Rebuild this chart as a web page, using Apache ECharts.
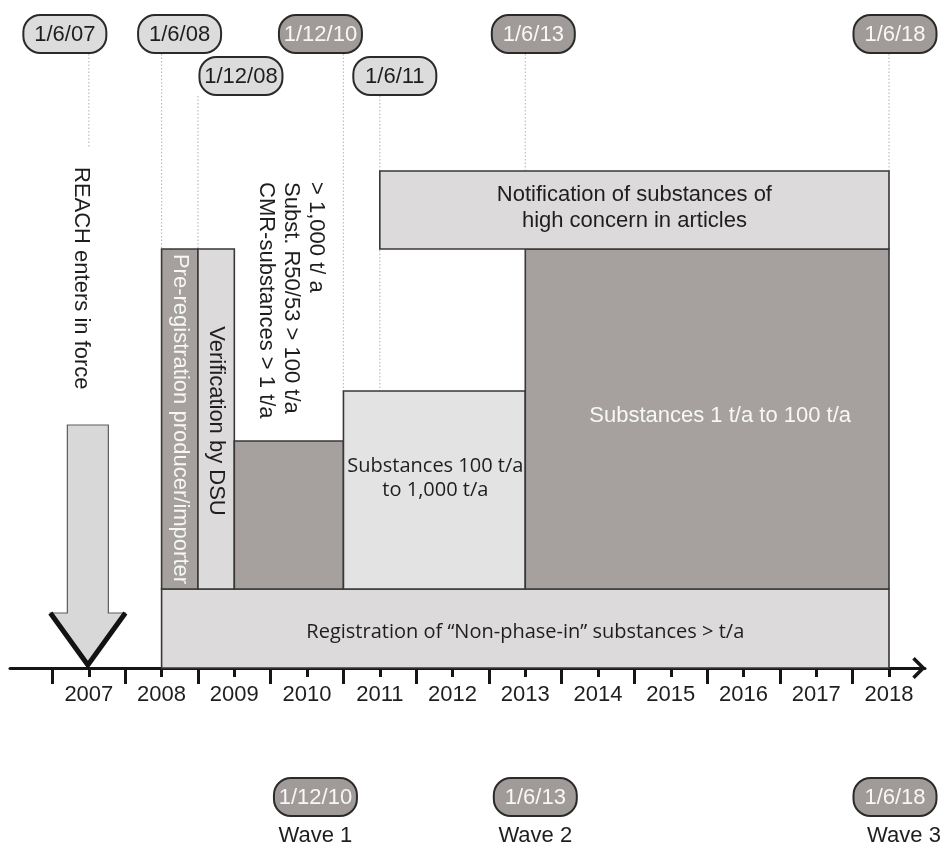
<!DOCTYPE html>
<html>
<head>
<meta charset="utf-8">
<script src="https://cdn.jsdelivr.net/npm/echarts@6/dist/echarts.min.js"></script>
<style>html,body{margin:0;padding:0;background:#fff}#c{width:943px;height:848px}</style>
</head>
<body>
<div id="c"></div>
<script>
// ---------------- data ----------------
const yearLabels = ['2007','2008','2009','2010','2011','2012','2013','2014','2015','2016','2017','2018'];
const yearLabelValues = [2007.5,2008.5,2009.5,2010.5,2011.5,2012.5,2013.5,2014.5,2015.5,2016.5,2017.5,2018.5];
const yearBoundaryValues = [2007,2008,2009,2010,2011,2012,2013,2014,2015,2016,2017,2018];

const phaseNames = [
  'Registration of \u201cNon-phase-in\u201d substances > t/a',
  'Pre-registration producer/importer',
  'Verification by DSU',
  '',
  'Substances 100 t/a\nto 1,000 t/a',
  'Substances 1 t/a to 100 t/a',
  'Notification of substances of\nhigh concern in articles'
];
const phaseStart  = [2008.5, 2008.5, 2009.0, 2009.5, 2011.0, 2013.5, 2011.5];
const phaseEnd    = [2018.5, 2009.0, 2009.5, 2011.0, 2013.5, 2018.5, 2018.5];
const phaseBottom = [0, 79, 79, 79, 79, 79, 419];
const phaseTop    = [79, 419, 419, 227, 277, 419, 497];
const phaseTone   = ['light','dark','light','dark','pale','dark','light'];

const milestoneLabels = ['1/6/07','1/6/08','1/12/08','1/12/10','1/6/11','1/6/13','1/6/18'];
const milestoneValues = [2007.5, 2008.5, 2009.0, 2011.0, 2011.5, 2013.5, 2018.5];
const milestoneTone   = ['light','light','light','dark','light','dark','dark'];
const milestoneRow    = [0, 0, 1, 0, 1, 0, 0];
const milestoneGuideEnd = [520, 419, 419, 277, 277, 497, 497];

const waveNames = ['Wave 1','Wave 2','Wave 3'];
const waveDateLabels = ['1/12/10','1/6/13','1/6/18'];
const waveValues = [2011.0, 2013.5, 2018.5];

const reachLabel = 'REACH enters in force';
const reachValue = 2007.5;
const reachArrowLevels = [243, 55, 3]; // shaft top, head start, tip

const cmrLines = ['> 1,000 t/ a', 'Subst. R50/53 > 100 t/a', 'CMR-substances > 1 t/a'];
const cmrPhaseIndex = 3;

// ---------------- layout / style ----------------
const C = {
  dark: '#a6a19f', light: '#dcdadb', pale: '#e2e3e2', edge: '#383838',
  ink: '#1e1e1e', white: '#f7f7f7', guide: '#bdbdbd'
};
const ARIAL = '"Liberation Sans", Arial, sans-serif';
const HUMAN = '"Open Sans", "Noto Sans", sans-serif';
const phaseLabelLayout = [
  {dx: 0, dy: 4, rot: false, font: '20px ' + HUMAN, lh: 24},
  {dx: 0, dy: 0, rot: true, font: '22px ' + ARIAL, lh: 24},
  {dx: 0, dy: 2, rot: true, font: '22px ' + ARIAL, lh: 24},
  {dx: 0, dy: 0, rot: false, font: '22px ' + ARIAL, lh: 24},
  {dx: 1, dy: -12, rot: false, font: '20px ' + HUMAN, lh: 24},
  {dx: 13, dy: -3, rot: false, font: '22px ' + ARIAL, lh: 24},
  {dx: 0, dy: -2, rot: false, font: '22px ' + ARIAL, lh: 26}
];
const pillDx = [-24, 18, 43, -23, 15, 8, 6];
const pillRowLevel = [634, 592];      // centre levels of the two top rows
const pillHalfH = 19, pillHalfW = 41.5;
const wavePillDx = [-28, 10, 6];
const waveLabelDx = [-28, 10, 15];
const wavePillLevel = -129, waveLabelLevel = -168;

function pill(cx, cy, label, tone) {
  const dark = tone === 'dark';
  return [
    {type: 'rect', shape: {x: cx - pillHalfW, y: cy - pillHalfH, width: pillHalfW * 2, height: pillHalfH * 2, r: 17},
     style: {fill: dark ? '#a09b99' : '#dcdcdc', stroke: '#2a2a2a', lineWidth: 2}},
    {type: 'text', x: cx, y: cy + 1,
     style: {text: label, align: 'center', verticalAlign: 'middle', font: '22px ' + ARIAL, fill: dark ? C.white : C.ink}}
  ];
}

const chart = echarts.init(document.getElementById('c'), null, {renderer: 'canvas'});

const option = {
  animation: false,
  backgroundColor: '#ffffff',
  grid: {left: 10, right: 18, top: 0, bottom: 180, outerBoundsMode: 'none', containLabel: false},
  xAxis: [
    {
      type: 'value', min: 2006.416, max: 2018.995, position: 'bottom',
      splitLine: {show: false},
      axisLine: {show: true, lineStyle: {color: '#151515', width: 3},
        symbol: ['none', 'path://M0,11L11,0L22,11L19.5,13.5L11,5L2.5,13.5Z'],
        symbolSize: [22, 14], symbolOffset: [0, -6]},
      axisTick: {show: true, customValues: yearLabelValues, length: 9, inside: false,
        lineStyle: {color: '#151515', width: 3}},
      axisLabel: {show: true, customValues: yearLabelValues, margin: 16,
        fontSize: 22, fontFamily: ARIAL, color: C.ink,
        formatter: function (v) { const k = yearLabelValues.indexOf(v); return k >= 0 ? yearLabels[k] : ''; }}
    },
    {
      type: 'value', min: 2006.416, max: 2018.995, position: 'bottom',
      splitLine: {show: false},
      axisLine: {show: false},
      axisTick: {show: true, customValues: yearBoundaryValues, length: 16, inside: false,
        lineStyle: {color: '#151515', width: 3}},
      axisLabel: {show: false}
    }
  ],
  yAxis: {type: 'value', min: 0, max: 668, show: false},
  series: [
    // dotted guides from the date pills
    {
      type: 'custom', coordinateSystem: 'cartesian2d', clip: false, z: 1,
      data: milestoneValues.map((v, i) => [v, pillRowLevel[milestoneRow[i]] - pillHalfH - 1, milestoneGuideEnd[i]]),
      renderItem: function (params, api) {
        const a = api.coord([api.value(0), api.value(1)]);
        const b = api.coord([api.value(0), api.value(2)]);
        return {type: 'line', shape: {x1: a[0], y1: a[1], x2: b[0], y2: b[1]},
          style: {stroke: C.guide, lineWidth: 1.2, lineDash: [1.5, 2]}};
      }
    },
    // phase boxes
    {
      type: 'custom', coordinateSystem: 'cartesian2d', clip: false, z: 2,
      data: phaseStart.map((s, i) => [s, phaseEnd[i], phaseBottom[i], phaseTop[i]]),
      renderItem: function (params, api) {
        const i = params.dataIndex;
        const p0 = api.coord([api.value(0), api.value(3)]);
        const p1 = api.coord([api.value(1), api.value(2)]);
        const x = p0[0], y = p0[1], w = p1[0] - p0[0], h = p1[1] - p0[1];
        const tone = phaseTone[i];
        const lay = phaseLabelLayout[i];
        const children = [{type: 'rect', shape: {x: x, y: y, width: w, height: h},
          style: {fill: C[tone], stroke: C.edge, lineWidth: 1.6}}];
        if (phaseNames[i]) {
          children.push({type: 'text', x: x + w / 2 + lay.dx, y: y + h / 2 + lay.dy,
            rotation: lay.rot ? -Math.PI / 2 : 0,
            style: {text: phaseNames[i], align: 'center', verticalAlign: 'middle', font: lay.font,
              lineHeight: lay.lh, fill: tone === 'dark' ? C.white : C.ink}});
        }
        return {type: 'group', children: children};
      }
    },
    // REACH arrow
    {
      type: 'custom', coordinateSystem: 'cartesian2d', clip: false, z: 3,
      data: [[reachValue, reachArrowLevels[0], reachArrowLevels[1], reachArrowLevels[2]]],
      renderItem: function (params, api) {
        const top = api.coord([api.value(0), api.value(1)]);
        const head = api.coord([api.value(0), api.value(2)]);
        const tip = api.coord([api.value(0), api.value(3)]);
        const cx = top[0] - 1;
        const sw = 20.5, hw = 37.5;
        return {type: 'group', children: [
          {type: 'polygon', shape: {points: [[cx - sw, top[1]], [cx + sw, top[1]], [cx + sw, head[1]], [cx + hw, head[1]],
            [cx, tip[1]], [cx - hw, head[1]], [cx - sw, head[1]]]},
           style: {fill: '#d8d8d8', stroke: '#5c5c5c', lineWidth: 1.2}},
          {type: 'polyline', shape: {points: [[cx - hw, head[1]], [cx, tip[1]], [cx + hw, head[1]]]},
           style: {stroke: '#121212', lineWidth: 5, fill: null, lineJoin: 'miter'}}
        ]};
      }
    },
    // rotated annotations
    {
      type: 'custom', coordinateSystem: 'cartesian2d', clip: false, z: 4,
      data: [[reachValue, 501], [(phaseStart[cmrPhaseIndex] + phaseEnd[cmrPhaseIndex]) / 2, 486]],
      renderItem: function (params, api) {
        const p = api.coord([api.value(0), api.value(1)]);
        if (params.dataIndex === 0) {
          return {type: 'text', x: p[0] - 8, y: p[1], rotation: -Math.PI / 2,
            style: {text: reachLabel, align: 'left', verticalAlign: 'middle', font: '22px ' + ARIAL, fill: C.ink}};
        }
        return {type: 'text', x: p[0] + 2, y: p[1], rotation: -Math.PI / 2,
          style: {text: cmrLines.join('\n'), align: 'left', verticalAlign: 'middle', font: '22px ' + ARIAL,
            lineHeight: 25, fill: C.ink}};
      }
    },
    // top date pills
    {
      type: 'custom', coordinateSystem: 'cartesian2d', clip: false, z: 5,
      data: milestoneValues.map((v, i) => [v, pillRowLevel[milestoneRow[i]]]),
      renderItem: function (params, api) {
        const i = params.dataIndex;
        const p = api.coord([api.value(0), api.value(1)]);
        return {type: 'group', children: pill(p[0] + pillDx[i], p[1], milestoneLabels[i], milestoneTone[i])};
      }
    },
    // wave pills and labels
    {
      type: 'custom', coordinateSystem: 'cartesian2d', clip: false, z: 5,
      data: waveValues.map((v) => [v, wavePillLevel, waveLabelLevel]),
      renderItem: function (params, api) {
        const i = params.dataIndex;
        const p = api.coord([api.value(0), api.value(1)]);
        const q = api.coord([api.value(0), api.value(2)]);
        const kids = pill(p[0] + wavePillDx[i], p[1], waveDateLabels[i], 'dark');
        kids.push({type: 'text', x: q[0] + waveLabelDx[i], y: q[1],
          style: {text: waveNames[i], align: 'center', verticalAlign: 'middle', font: '22px ' + ARIAL, fill: C.ink}});
        return {type: 'group', children: kids};
      }
    }
  ]
};
chart.setOption(option);
</script>
</body>
</html>
